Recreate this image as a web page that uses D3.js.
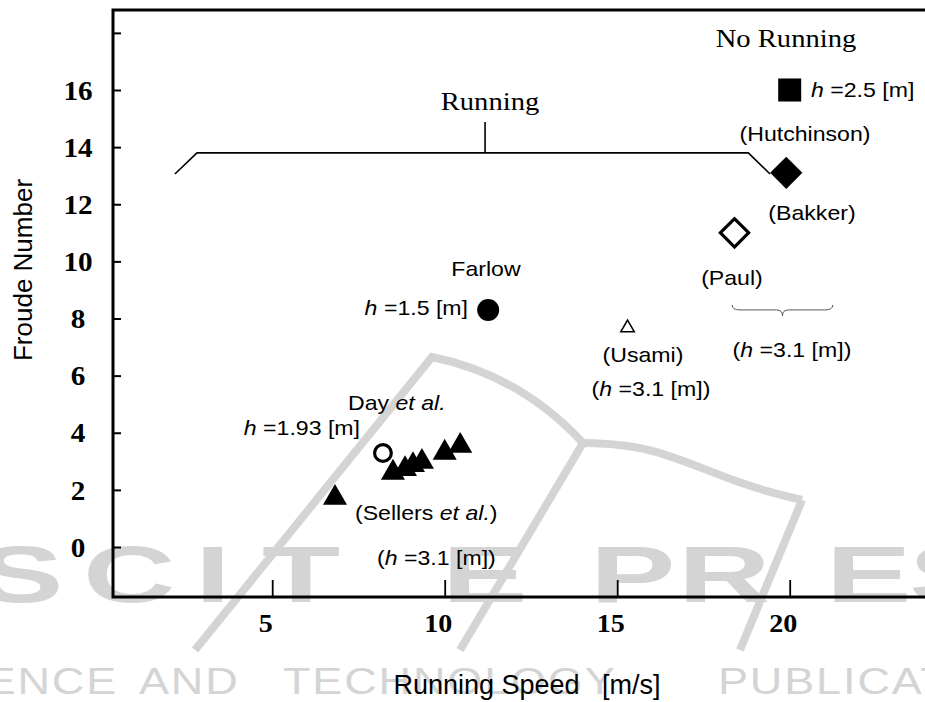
<!DOCTYPE html>
<html>
<head>
<meta charset="utf-8">
<script src="https://cdn.jsdelivr.net/npm/d3@7"></script>
<style>
  body { margin: 0; background: #fff; }
  svg { display: block; }
</style>
</head>
<body>
<div id="chart"></div>
<script>
// tick values
var xTicks = [5, 10, 15, 20];
var yTicks = [0, 2, 4, 6, 8, 10, 12, 14, 16, 18];
var yLabels = ['0', '2', '4', '6', '8', '10', '12', '14', '16', ''];

// single markers (speed m/s, Froude number)
var pointNames = ['Hutchinson', 'Bakker', 'Paul', 'Farlow', 'Day', 'Usami'];
var pointX = [20.0, 19.9, 18.4, 11.26, 8.21, 15.3];
var pointY = [16.0, 13.1, 11.0, 8.3, 3.29, 7.67];
var pointShape = ['square', 'diamond', 'diamondOpen', 'circle', 'circleOpen', 'triangleOpen'];

// Sellers et al. filled triangles
var sellersX = [6.82, 8.5, 8.85, 9.08, 9.34, 10.0, 10.45];
var sellersY = [1.72, 2.6, 2.73, 2.87, 2.98, 3.3, 3.54];

var W = 925, H = 702;
var axisLeft = 113, axisBottom = 597, axisTop = 10;
var wmColor = '#d4d4d4';

var svg = d3.select('#chart').append('svg:svg')
    .attr('width', W).attr('height', H);

var x = d3.scaleLinear().domain([0, 20]).range([99.7, 789.7]);
var y = d3.scaleLinear().domain([0, 16]).range([547, 90]);

var sans = '"Liberation Sans", Arial, sans-serif';
var serif = '"Liberation Serif", "Times New Roman", serif';

// the source figure is a little wider than it is tall, so text gets stretched
var stretch = function(sel, k) {
  sel.each(function() {
    var len = this.getComputedTextLength();
    d3.select(this).attr('textLength', len * k).attr('lengthAdjust', 'spacingAndGlyphs');
  });
};

/**
 * Publisher watermark, drawn first so it sits behind the chart.
 */
var drawWatermark = function() {
  var g = svg.append('g').attr('fill', wmColor).attr('stroke', wmColor);
  var swoosh = d3.line().curve(d3.curveBasis);
  g.append('path').attr('fill', 'none').attr('stroke-width', 8)
      .attr('d', 'M195,650 L432,357 Q520,375 583,443');
  g.append('path').attr('fill', 'none').attr('stroke-width', 8)
      .attr('d', swoosh([[583, 443], [650, 445], [740, 485], [802, 500]]));
  g.append('path').attr('fill', 'none').attr('stroke-width', 8)
      .attr('d', 'M583,443 L460,650');
  g.append('path').attr('fill', 'none').attr('stroke-width', 8)
      .attr('d', 'M802,500 L740,650');

  // big letters, placed one by one
  var sx = 1.6;
  var big = 'SCITEPRESS'.split('');
  var bigX = [-22, 83, 195, 262, 442, 590, 678, 826, 909, 1010];
  var t = g.append('text').attr('stroke', 'none')
      .attr('transform', 'scale(' + sx + ',1)')
      .attr('y', 602)
      .attr('font-family', sans).attr('font-weight', 'bold').attr('font-size', 80);
  big.forEach(function(c, i) { t.append('tspan').attr('x', bigX[i] / sx).text(c); });

  var sx2 = 1.25;
  var words = ['SCIENCE', 'AND', 'TECHNOLOGY', 'PUBLICATIONS'];
  var wordX = [-95, 139, 283, 718];
  var t2 = g.append('text').attr('stroke', 'none')
      .attr('transform', 'scale(' + sx2 + ',1)')
      .attr('y', 694)
      .attr('font-family', sans).attr('font-size', 36).attr('letter-spacing', 1.5);
  words.forEach(function(w, i) { t2.append('tspan').attr('x', wordX[i] / sx2).text(w); });
};

/**
 * Frame, ticks and tick labels.
 */
var drawAxes = function() {
  var yAxis = d3.axisLeft(y).tickValues(yTicks).tickSize(-8)
      .tickFormat(function(d, i) { return yLabels[i]; });
  var gy = svg.append('g').attr('transform', 'translate(' + axisLeft + ',0)').call(yAxis);
  gy.select('.domain').remove();
  gy.selectAll('.tick line').attr('stroke', '#000').attr('stroke-width', 2);
  gy.selectAll('.tick text').attr('x', -35).attr('dy', '0.34em')
      .attr('text-anchor', 'middle')
      .attr('font-family', serif).attr('font-weight', 'bold').attr('font-size', 27)
      .attr('fill', '#000');
  stretch(gy.selectAll('.tick text'), 1.08);

  var xAxis = d3.axisBottom(x).tickValues(xTicks).tickSize(-17);
  var gx = svg.append('g').attr('transform', 'translate(0,' + axisBottom + ')').call(xAxis);
  gx.select('.domain').remove();
  gx.selectAll('.tick line').attr('stroke', '#000').attr('stroke-width', 1.8);
  gx.selectAll('.tick text').attr('y', 35).attr('dy', 0).attr('dx', -7)
      .attr('font-family', serif).attr('font-weight', 'bold').attr('font-size', 26)
      .attr('fill', '#000');
  stretch(gx.selectAll('.tick text'), 1.08);

  // frame lines
  svg.append('path').attr('fill', 'none').attr('stroke', '#000').attr('stroke-width', 3)
      .attr('d', 'M' + W + ',' + axisTop + 'H' + axisLeft + 'V' + axisBottom + 'H' + W);

  svg.append('text').attr('transform', 'translate(32,270) rotate(-90)')
      .attr('text-anchor', 'middle')
      .attr('font-family', sans).attr('font-size', 26)
      .text('Froude Number');
  svg.append('text').attr('x', 527).attr('y', 694)
      .attr('text-anchor', 'middle')
      .attr('font-family', sans).attr('font-size', 27)
      .attr('xml:space', 'preserve')
      .text('Running Speed   [m/s]');
};

/**
 * Markers for each study.
 */
var drawPoints = function() {
  var pts = pointNames.map(function(n, i) {
    return { name: n, x: pointX[i], y: pointY[i], shape: pointShape[i] };
  });
  var sym = {
    square: [d3.symbolSquare, 530, true],
    diamond: [d3.symbolSquare, 520, true],
    diamondOpen: [d3.symbolSquare, 400, false],
    circle: [d3.symbolCircle, 380, true],
    circleOpen: [d3.symbolCircle, 220, false],
    triangleOpen: [d3.symbolTriangle, 80, false]
  };
  svg.selectAll('path.pt').data(pts).enter().append('path')
      .attr('class', 'pt')
      .attr('transform', function(d) {
        var r = (d.shape === 'diamond' || d.shape === 'diamondOpen') ? ' rotate(45)' : '';
        return 'translate(' + x(d.x) + ',' + y(d.y) + ')' + r;
      })
      .attr('d', function(d) { return d3.symbol().type(sym[d.shape][0]).size(sym[d.shape][1])(); })
      .attr('fill', function(d) { return sym[d.shape][2] ? '#000' : 'none'; })
      .attr('stroke', '#000')
      .attr('stroke-width', function(d) {
        if (d.shape === 'triangleOpen') return 1.5;
        return sym[d.shape][2] ? 0 : 3.2;
      });

  svg.selectAll('path.sellers').data(sellersX).enter().append('path')
      .attr('class', 'sellers')
      .attr('transform', function(d, i) { return 'translate(' + x(d) + ',' + y(sellersY[i]) + ')'; })
      .attr('d', d3.symbol().type(d3.symbolTriangle).size(250)())
      .attr('fill', '#000');
};

/**
 * Text annotations and the two brackets.
 */
var label = function(px, py, parts, anchor, size, family) {
  var t = svg.append('text').attr('x', px).attr('y', py)
      .attr('text-anchor', anchor || 'start')
      .attr('font-family', family || sans).attr('font-size', size || 21)
      .attr('xml:space', 'preserve');
  parts.forEach(function(p) {
    t.append('tspan').attr('font-style', p[1] ? 'italic' : null).text(p[0]);
  });
  stretch(t, 1.1);
  return t;
};

var drawAnnotations = function() {
  label(786, 47, [['No Running']], 'middle', 26, serif);
  label(490, 110, [['Running']], 'middle', 26, serif);

  // Running bracket
  var bracket = [[2.18, 13.06], [2.82, 13.8], [18.8, 13.8], [19.43, 13.06]];
  svg.append('path').attr('fill', 'none').attr('stroke', '#000').attr('stroke-width', 1.6)
      .attr('d', d3.line().x(function(d) { return x(d[0]); }).y(function(d) { return y(d[1]); })(bracket));
  svg.append('line').attr('stroke', '#000').attr('stroke-width', 1.6)
      .attr('x1', x(11.17)).attr('x2', x(11.17)).attr('y1', y(13.8)).attr('y2', y(14.88));

  // brace under Paul / Bakker
  var bx0 = x(18.33), bx1 = x(21.25), bm = (bx0 + bx1) / 2, by = y(8.3);
  svg.append('path').attr('fill', 'none').attr('stroke', '#555').attr('stroke-width', 1)
      .attr('d', 'M' + bx0 + ',' + (by - 5) + ' Q' + bx0 + ',' + by + ' ' + (bx0 + 8) + ',' + by +
          ' L' + (bm - 6) + ',' + by + ' Q' + bm + ',' + by + ' ' + bm + ',' + (by + 6) +
          ' Q' + bm + ',' + by + ' ' + (bm + 6) + ',' + by +
          ' L' + (bx1 - 8) + ',' + by + ' Q' + bx1 + ',' + by + ' ' + bx1 + ',' + (by - 5));

  label(811, 97, [['h', true], [' =2.5 [m]']], 'start');
  label(805, 141, [['(Hutchinson)']], 'middle');
  label(812, 220, [['(Bakker)']], 'middle');
  label(732, 285, [['(Paul)']], 'middle');
  label(792, 357, [['('], ['h', true], [' =3.1 [m])']], 'middle');

  label(643, 362, [['(Usami)']], 'middle');
  label(651, 396, [['('], ['h', true], [' =3.1 [m])']], 'middle');

  label(486, 276, [['Farlow']], 'middle');
  label(468, 315, [['h', true], [' =1.5 [m]']], 'end');

  label(348, 410, [['Day '], ['et al.', true]], 'start');
  label(360, 435, [['h', true], [' =1.93 [m]']], 'end');

  label(355, 520, [['(Sellers '], ['et al.', true], [')']], 'start');
  label(377, 565, [['('], ['h', true], [' =3.1 [m])']], 'start');
};

drawWatermark();
drawAxes();
drawPoints();
drawAnnotations();
</script>
</body>
</html>
